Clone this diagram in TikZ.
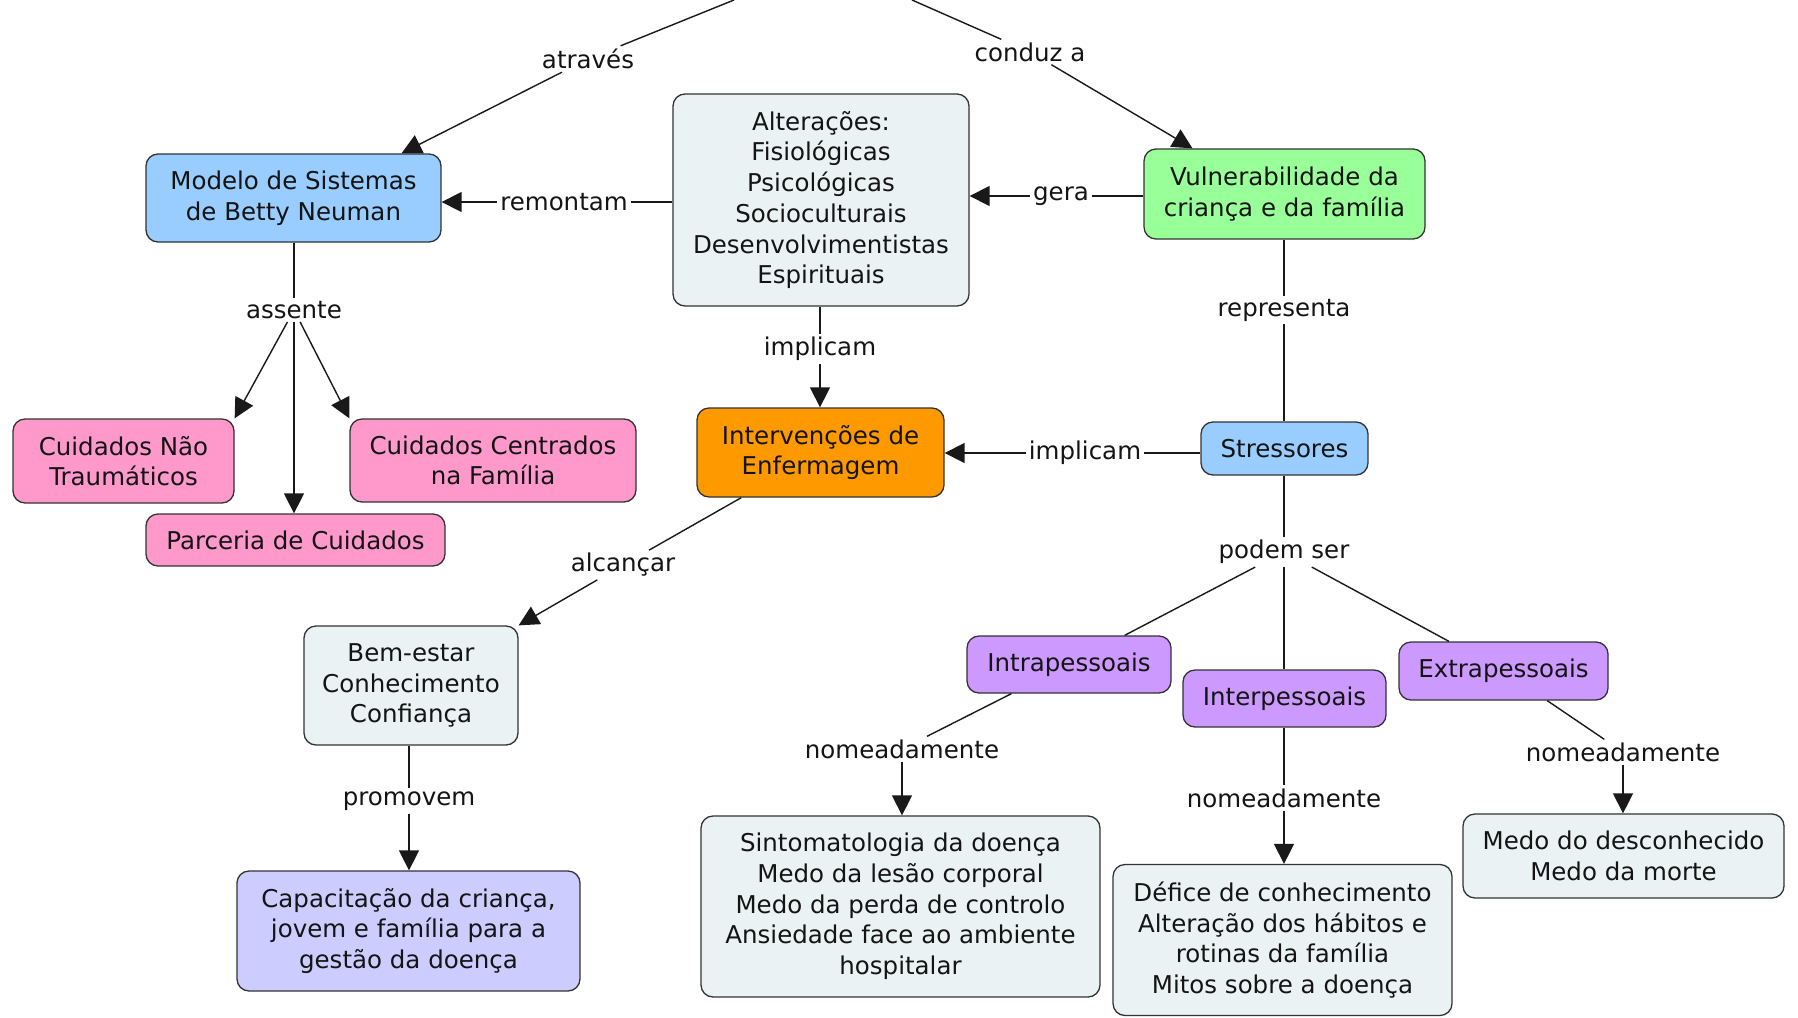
\documentclass[tikz,border=0pt]{standalone}
\usepackage{fontspec}
\setmainfont{DejaVu Sans}
\usetikzlibrary{arrows.meta}
\definecolor{cblue}{HTML}{99CCFF}
\definecolor{cgray}{HTML}{EBF2F4}
\definecolor{cgreen}{HTML}{99FF99}
\definecolor{cpink}{HTML}{FF99CC}
\definecolor{corange}{HTML}{FF9900}
\definecolor{cpurple}{HTML}{CC99FF}
\definecolor{clav}{HTML}{CCCCFF}
\definecolor{cborder}{HTML}{333333}
\begin{document}
\begin{tikzpicture}[x=1pt,y=-1pt,
  concept/.style={draw=cborder, line width=1.3pt, rounded corners=12pt, align=center, inner sep=0pt, font=\fontsize{24.5}{30.7}\selectfont, text=black!92},
  lbl/.style={inner sep=3pt, font=\fontsize{24.5}{30.7}\selectfont, text=black!92},
  link/.style={line width=1.4pt, draw=black!90},
  arr/.style={link, -{Triangle[length=20pt,width=20pt]}},
]
\useasboundingbox (0,0) rectangle (1798,1017);

% concepts
\node[concept, fill=cblue, minimum width=295pt, minimum height=88pt] (modelo) at (293.5,198) {Modelo de Sistemas\\de Betty Neuman};
\node[concept, fill=cgray, minimum width=296pt, minimum height=212pt] (alter) at (821,200) {Alterações:\\Fisiológicas\\Psicológicas\\Socioculturais\\Desenvolvimentistas\\Espirituais};
\node[concept, fill=cgreen, minimum width=281pt, minimum height=90pt] (vuln) at (1284.5,194) {Vulnerabilidade da\\criança e da família};
\node[concept, fill=cpink, minimum width=221pt, minimum height=84pt] (cnt) at (123.5,461) {Cuidados Não\\Traumáticos};
\node[concept, fill=cpink, minimum width=286pt, minimum height=83pt] (ccf) at (493,460.5) {Cuidados Centrados\\na Família};
\node[concept, fill=cpink, minimum width=299pt, minimum height=52pt] (parc) at (295.5,540) {Parceria de Cuidados};
\node[concept, fill=corange, minimum width=247pt, minimum height=89pt] (interv) at (820.5,452.5) {Intervenções de\\Enfermagem};
\node[concept, fill=cblue, minimum width=167pt, minimum height=53pt] (stress) at (1284.5,448.5) {Stressores};
\node[concept, fill=cgray, minimum width=214pt, minimum height=119pt] (bem) at (411,685.5) {Bem-estar\\Conhecimento\\Confiança};
\node[concept, fill=clav, minimum width=343pt, minimum height=120pt] (capac) at (408.5,931) {Capacitação da criança,\\jovem e família para a\\gestão da doença};
\node[concept, fill=cpurple, minimum width=204pt, minimum height=57pt] (intra) at (1069,664.5) {Intrapessoais};
\node[concept, fill=cpurple, minimum width=203pt, minimum height=57pt] (inter) at (1284.5,698.5) {Interpessoais};
\node[concept, fill=cpurple, minimum width=209pt, minimum height=58pt] (extra) at (1503.5,671) {Extrapessoais};
\node[concept, fill=cgray, minimum width=399pt, minimum height=181pt] (sint) at (900.5,906.5) {Sintomatologia da doença\\Medo da lesão corporal\\Medo da perda de controlo\\Ansiedade face ao ambiente\\hospitalar};
\node[concept, fill=cgray, minimum width=339pt, minimum height=151pt] (defice) at (1282.5,940) {Défice de conhecimento\\Alteração dos hábitos e\\rotinas da família\\Mitos sobre a doença};
\node[concept, fill=cgray, minimum width=321pt, minimum height=84pt] (medo) at (1623.5,856) {Medo do desconhecido\\Medo da morte};

% linking phrases
\node[lbl] (atraves) at (588,59) {através};
\node[lbl] (conduz) at (1030,52) {conduz a};
\node[lbl] (remontam) at (564,202) {remontam};
\node[lbl] (gera) at (1061,196) {gera};
\node[lbl] (assente) at (294,310) {assente};
\node[lbl] (impl1) at (820,349) {implicam};
\node[lbl] (repr) at (1284,310) {representa};
\node[lbl] (impl2) at (1085,453) {implicam};
\node[lbl] (podem) at (1284,552) {podem ser};
\node[lbl] (alcancar) at (623,565) {alcançar};
\node[lbl] (nom1) at (902,749) {nomeadamente};
\node[lbl] (nom2) at (1284,798) {nomeadamente};
\node[lbl] (nom3) at (1623,752) {nomeadamente};
\node[lbl] (prom) at (409,801) {promovem};

\coordinate (rootA) at (734,0);
\coordinate (rootB) at (912,0);

% connectors
\draw[link] (rootA) -- (atraves);
\draw[arr] (atraves) -- ([xshift=108pt]modelo.north);
\draw[link] (rootB) -- (conduz);
\draw[arr] (conduz) -- ([xshift=-92pt]vuln.north);

\draw[link] (remontam -| alter.west) -- (remontam);
\draw[arr] (remontam) -- (remontam -| modelo.east);
\draw[link] (gera -| vuln.west) -- (gera);
\draw[arr] (gera) -- (gera -| alter.east);

\draw[link] (assente |- modelo.south) -- (assente);
\draw[arr] (assente) -- (cnt.north east);
\draw[arr] (assente) -- (assente |- parc.north);
\draw[arr] (assente) -- (ccf.north west);

\draw[link] (impl1 |- alter.south) -- (impl1);
\draw[arr] (impl1) -- (impl1 |- interv.north);

\draw[link] (repr |- vuln.south) -- (repr);
\draw[link] (repr) -- (repr |- stress.north);

\draw[link] (impl2 -| stress.west) -- (impl2);
\draw[arr] (impl2) -- (impl2 -| interv.east);

\draw[link] (podem |- stress.south) -- (podem);
\draw[link] (podem) -- (intra);
\draw[link] (podem) -- (podem |- inter.north);
\draw[link] (podem) -- (extra);

\draw[link] (interv) -- (alcancar);
\draw[arr] (alcancar) -- (bem.north east);

\draw[link] (intra) -- (nom1);
\draw[arr] (nom1) -- (nom1 |- sint.north);
\draw[link] (nom2 |- inter.south) -- (nom2);
\draw[arr] (nom2) -- (nom2 |- defice.north);
\draw[link] (extra) -- (nom3);
\draw[arr] (nom3) -- (nom3 |- medo.north);

\draw[link] (prom |- bem.south) -- (prom);
\draw[arr] (prom) -- (prom |- capac.north);
\end{tikzpicture}
\end{document}
